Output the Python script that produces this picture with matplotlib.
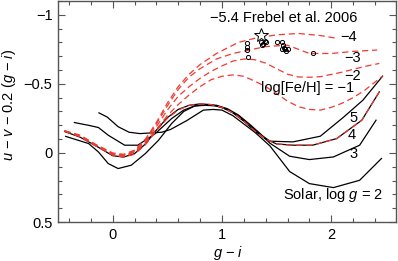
import matplotlib
matplotlib.use('Agg')
import matplotlib.pyplot as plt
from matplotlib.ticker import MultipleLocator, FuncFormatter

plt.rcParams['font.family'] = ['Liberation Sans', 'DejaVu Sans']
plt.rcParams['mathtext.fontset'] = 'custom'
plt.rcParams['mathtext.rm'] = 'Liberation Sans'
plt.rcParams['mathtext.it'] = 'Liberation Sans:italic'

# --- metal-poor log g = 2 models (red dashed) ---
feh4_x = [-0.44, -0.3, -0.15, 0.0, 0.1, 0.2, 0.3, 0.4, 0.5, 0.6, 0.7, 0.8, 0.95, 1.15, 1.3, 1.5, 1.7, 1.9, 2.05]
feh4_y = [-0.16, -0.13, -0.06, 0.0, 0.01, -0.02, -0.10, -0.22, -0.36, -0.48, -0.57, -0.64, -0.72, -0.80, -0.83, -0.855, -0.865, -0.85, -0.83]

feh3_x = [-0.44, -0.3, -0.15, 0.0, 0.1, 0.2, 0.3, 0.4, 0.5, 0.6, 0.7, 0.8, 0.95, 1.1, 1.25, 1.4, 1.6, 1.8, 2.0, 2.2, 2.42]
feh3_y = [-0.16, -0.12, -0.055, 0.005, 0.015, -0.015, -0.09, -0.21, -0.34, -0.46, -0.55, -0.61, -0.68, -0.72, -0.745, -0.77, -0.78, -0.72, -0.72, -0.735, -0.745]

feh2_x = [-0.44, -0.3, -0.15, 0.0, 0.1, 0.2, 0.3, 0.4, 0.5, 0.6, 0.7, 0.8, 0.9, 1.0, 1.1, 1.2, 1.3, 1.4, 1.5,
          1.6, 1.7, 1.8, 1.9, 2.1, 2.3, 2.44]
feh2_y = [-0.16, -0.12, -0.05, 0.01, 0.02, -0.01, -0.08, -0.19, -0.31, -0.41, -0.48, -0.54, -0.59, -0.63, -0.665,
          -0.68, -0.675, -0.65, -0.61, -0.57, -0.55, -0.548, -0.552, -0.585, -0.625, -0.648]

feh1_x = [-0.44, -0.3, -0.15, 0.0, 0.1, 0.2, 0.3, 0.4, 0.5, 0.6, 0.7, 0.8, 0.9, 1.0, 1.1, 1.2, 1.3, 1.4, 1.5,
          1.6, 1.7, 1.8, 1.9, 2.0, 2.1, 2.2, 2.3, 2.47]
feh1_y = [-0.16, -0.12, -0.05, 0.015, 0.025, -0.005, -0.07, -0.17, -0.27, -0.35, -0.42, -0.48, -0.53, -0.555,
          -0.565, -0.555, -0.52, -0.48, -0.43, -0.375, -0.335, -0.315, -0.31, -0.33, -0.36, -0.40, -0.45, -0.556]

# metal-poor log g = 4 (red dashed, on top of the black one)
mp4_x = [-0.44, -0.3, -0.15, 0.0, 0.1, 0.2, 0.3, 0.4, 0.5, 0.6, 0.7, 0.8, 0.9, 1.0, 1.1, 1.2, 1.3, 1.4, 1.5,
         1.65, 1.83, 2.05, 2.28, 2.44]
mp4_y = [-0.16, -0.12, -0.055, 0.015, 0.03, 0.01, -0.06, -0.16, -0.25, -0.31, -0.345, -0.355, -0.35, -0.33,
         -0.29, -0.23, -0.16, -0.10, -0.065, -0.056, -0.056, -0.104, -0.237, -0.442]

# --- solar models (black) ---
g2_x = [-0.125, -0.05, 0.05, 0.15, 0.25, 0.35, 0.45, 0.53, 0.68, 0.83, 0.92, 1.0, 1.1, 1.2, 1.3, 1.35, 1.44,
        1.62, 1.80, 2.02, 2.26, 2.46]
g2_y = [-0.29, -0.26, -0.19, -0.15, -0.14, -0.145, -0.15, -0.17, -0.235, -0.31, -0.315, -0.31, -0.27, -0.21,
        -0.15, -0.115, -0.05, 0.135, 0.222, 0.251, 0.198, 0.04]

g3_x = [-0.43, -0.22, -0.13, -0.04, 0.05, 0.17, 0.3, 0.42, 0.54, 0.65, 0.75, 0.85, 0.95, 1.05, 1.15, 1.25,
        1.35, 1.44, 1.62, 1.80, 2.02, 2.26, 2.41]
g3_y = [-0.12, -0.068, -0.007, 0.077, 0.113, 0.089, 0.004, -0.092, -0.213, -0.30, -0.34, -0.35, -0.345, -0.32,
        -0.275, -0.21, -0.14, -0.07, 0.024, 0.048, 0.029, -0.056, -0.237]

g4_x = [-0.44, -0.3, -0.15, 0.0, 0.1, 0.2, 0.3, 0.4, 0.5, 0.6, 0.7, 0.8, 0.9, 1.0, 1.1, 1.2, 1.3, 1.4, 1.5,
        1.65, 1.83, 2.05, 2.28, 2.44]
g4_y = [-0.155, -0.115, -0.05, 0.02, 0.03, 0.005, -0.065, -0.165, -0.255, -0.315, -0.345, -0.355, -0.35, -0.33,
        -0.29, -0.23, -0.16, -0.10, -0.065, -0.056, -0.056, -0.104, -0.237, -0.442]

g5_x = [-0.35, -0.22, -0.13, -0.04, 0.11, 0.23, 0.39, 0.54, 0.65, 0.75, 0.85, 0.95, 1.05, 1.15, 1.25, 1.35,
        1.44, 1.65, 1.9, 2.11, 2.29, 2.47]
g5_y = [-0.22, -0.2, -0.184, -0.128, -0.056, -0.056, -0.14, -0.249, -0.31, -0.34, -0.345, -0.34, -0.315, -0.27,
        -0.205, -0.135, -0.085, -0.08, -0.121, -0.257, -0.382, -0.556]

# --- stars ---
obs_x = [1.225, 1.225, 1.225, 1.24, 1.36, 1.38, 1.39, 1.37, 1.40, 1.50, 1.55, 1.56, 1.57, 1.58, 1.59, 1.55, 1.60, 1.834]
obs_y = [-0.797, -0.768, -0.744, -0.691, -0.80, -0.79, -0.81, -0.78, -0.80, -0.80, -0.80, -0.78, -0.76, -0.75,
         -0.74, -0.75, -0.75, -0.72]
frebel_x = [1.36]
frebel_y = [-0.853]

fig = plt.figure(figsize=(3.98, 2.61), dpi=100)
ax = fig.add_axes([58 / 398, 39 / 261, 337.7 / 398, 221 / 261])

red = '#f03a32'
dash = dict(color=red, lw=0.9, dashes=(5, 3))
for xs, ys in [(g2_x, g2_y), (g3_x, g3_y), (g4_x, g4_y), (g5_x, g5_y)]:
    ax.plot(xs, ys, color='black', lw=0.9)
for xs, ys in [(feh4_x, feh4_y), (feh3_x, feh3_y), (feh2_x, feh2_y), (feh1_x, feh1_y), (mp4_x, mp4_y)]:
    ax.plot(xs, ys, **dash)

ax.plot(obs_x, obs_y, 'o', ms=3, mfc='none', mec='black', mew=0.7)
ax.plot(frebel_x, frebel_y, '*', ms=10, mfc='white', mec='black', mew=0.7)

fs = 10.5
ax.text(0.89, -0.976, '\u22125.4 Frebel et al. 2006', fontsize=fs, va='center', ha='left')
ax.text(2.08, -0.84, '\u22124', fontsize=fs, va='center')
ax.text(2.12, -0.686, '\u22123', fontsize=fs, va='center')
ax.text(2.12, -0.556, '\u22122', fontsize=fs, va='center')
ax.text(1.36, -0.469, 'log[Fe/H] = \u22121', fontsize=fs, va='center')
ax.text(2.17, -0.25, '5', fontsize=fs, va='center')
ax.text(2.15, -0.128, '4', fontsize=fs, va='center')
ax.text(2.17, 0.01, '3', fontsize=fs, va='center')
ax.text(1.56, 0.306, 'Solar, log $g$ = 2', fontsize=fs, va='center')

ax.set_xlim(-0.5, 2.59)
ax.set_ylim(0.5, -1.1)
ax.xaxis.set_major_locator(MultipleLocator(1))
ax.xaxis.set_minor_locator(MultipleLocator(0.2))
ax.yaxis.set_major_locator(MultipleLocator(0.5))
ax.yaxis.set_minor_locator(MultipleLocator(0.1))
fmt = FuncFormatter(lambda v, p: ('%g' % v).replace('-', '\u2212'))
ax.xaxis.set_major_formatter(fmt)
ax.yaxis.set_major_formatter(fmt)
ax.tick_params(which='both', direction='in', top=True, right=True, color='#555555',
               labelsize=fs, width=0.8)
ax.tick_params(which='major', length=5, pad=4)
ax.tick_params(which='minor', length=3)
for sp in ax.spines.values():
    sp.set_color('#555555')
    sp.set_linewidth(1.0)

fig.text(228 / 398, 1 - 253 / 261, '$g$ \u2212 $i$', fontsize=fs, ha='center', va='center')
fig.text(9 / 398, 1 - 105 / 261, '$u$ \u2212 $v$ \u2212 0.2 ($g$ \u2212 $i$)', fontsize=fs,
         ha='center', va='center', rotation=90)

fig.savefig('out.png', dpi=100)
